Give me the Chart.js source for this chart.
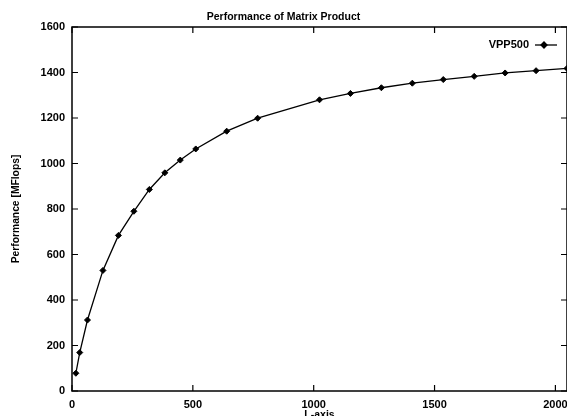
<!DOCTYPE html>
<html>
<head>
<meta charset="utf-8">
<script src="https://cdn.jsdelivr.net/npm/chart.js@4/dist/chart.umd.min.js"></script>
<style>
  html, body { margin: 0; padding: 0; background: #fff; overflow: hidden; }
  #wrap { width: 567px; height: 416px; }
</style>
</head>
<body>
<div id="wrap"><canvas id="chart"></canvas></div>
<script>
const sizes = [16, 32, 64, 128, 192, 256, 320, 384, 448, 512, 640, 768,
  1024, 1152, 1280, 1408, 1536, 1664, 1792, 1920, 2048];
const vpp500 = [78, 169, 312, 530, 684, 790, 886, 959, 1015, 1064, 1142, 1199,
  1280, 1308, 1333, 1353, 1369, 1383, 1398, 1408, 1418];
const xTicks = [0, 500, 1000, 1500, 2000];
const yTicks = [0, 200, 400, 600, 800, 1000, 1200, 1400, 1600];

const FONT = "'Liberation Sans', Arial, Helvetica, sans-serif";

// gnuplot style frame: full border, inward ticks on all four sides, key top right
const framePlugin = {
  id: "frame",
  afterDatasetsDraw(chart) {
    const { ctx, chartArea: a, scales } = chart;
    const len = 6;
    ctx.save();
    ctx.strokeStyle = "#000";
    ctx.lineWidth = 1.5;
    ctx.strokeRect(a.left, a.top, a.right - a.left, a.bottom - a.top);
    ctx.lineWidth = 1.2;
    ctx.beginPath();
    xTicks.forEach(v => {
      const x = scales.x.getPixelForValue(v);
      ctx.moveTo(x, a.bottom); ctx.lineTo(x, a.bottom - len);
      ctx.moveTo(x, a.top); ctx.lineTo(x, a.top + len);
    });
    yTicks.forEach(v => {
      const y = scales.y.getPixelForValue(v);
      ctx.moveTo(a.left, y); ctx.lineTo(a.left + len, y);
      ctx.moveTo(a.right, y); ctx.lineTo(a.right - len, y);
    });
    ctx.stroke();

    // key
    const ds = chart.data.datasets[0];
    const ky = a.top + 18;
    const sx1 = 535, sx2 = 557;
    ctx.font = "bold 11px " + FONT;
    ctx.fillStyle = "#000";
    ctx.textAlign = "right";
    ctx.textBaseline = "middle";
    ctx.fillText(ds.label, sx1 - 6, ky);
    ctx.lineWidth = 1.3;
    ctx.beginPath();
    ctx.moveTo(sx1, ky); ctx.lineTo(sx2, ky);
    ctx.stroke();
    Chart.helpers.drawPoint(ctx, { pointStyle: "rectRot", radius: 3, rotation: 0, borderWidth: 1 },
      sx1 + 9, ky);
    ctx.restore();
  }
};

new Chart(document.getElementById("chart"), {
  type: "line",
  data: {
    datasets: [{
      label: "VPP500",
      data: sizes.map((s, i) => ({ x: s, y: vpp500[i] })),
      borderColor: "#000",
      backgroundColor: "#000",
      borderWidth: 1.3,
      pointStyle: "rectRot",
      pointRadius: 3,
      pointBorderWidth: 1,
      tension: 0,
      clip: 6
    }]
  },
  options: {
    responsive: true,
    maintainAspectRatio: false,
    animation: false,
    layout: { padding: 0, autoPadding: false },
    plugins: {
      legend: { display: false },
      tooltip: { enabled: false },
      title: {
        display: true,
        text: "Performance of Matrix Product",
        color: "#000",
        font: { family: FONT, size: 10.5, weight: "bold", lineHeight: 1.2 },
        padding: { top: 11, bottom: 3.4 }
      }
    },
    scales: {
      x: {
        type: "linear",
        min: 0,
        max: 2048,
        afterBuildTicks: s => { s.ticks = xTicks.map(v => ({ value: v })); },
        afterFit: s => { s.height = 25; s.paddingRight = 0; s.paddingLeft = 0; },
        grid: { display: false, drawTicks: false },
        border: { display: false },
        ticks: { color: "#000", padding: 7, maxRotation: 0, font: { family: FONT, size: 11, weight: "bold" }, callback: v => String(v) },
        title: {
          display: true,
          text: "L-axis",
          color: "#000",
          font: { family: FONT, size: 10.5, weight: "bold", lineHeight: 1 },
          padding: { top: 0, bottom: -4 }
        }
      },
      y: {
        min: 0,
        max: 1600,
        afterBuildTicks: s => { s.ticks = yTicks.map(v => ({ value: v })); },
        afterFit: s => { s.width = 72; },
        grid: { display: false, drawTicks: false },
        border: { display: false },
        ticks: { color: "#000", padding: 7, font: { family: FONT, size: 11, weight: "bold" }, callback: v => String(v) },
        title: {
          display: true,
          text: "Performance [MFlops]",
          color: "#000",
          font: { family: FONT, size: 10.3, weight: "bold", lineHeight: 1.2 },
          padding: { top: 10, bottom: 0 }
        }
      }
    }
  },
  plugins: [framePlugin]
});
</script>
</body>
</html>
